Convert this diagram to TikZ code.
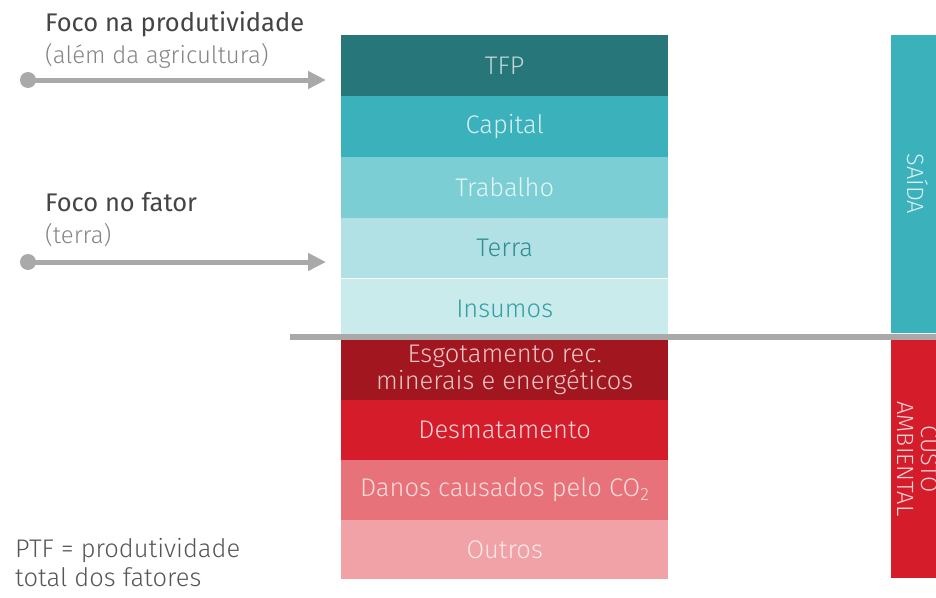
\documentclass[tikz,border=0pt]{standalone}
\usepackage{fontspec}
\setmainfont{Fira Sans Light}
\newfontfamily\headfont{Fira Sans}
\usetikzlibrary{positioning,arrows.meta}

\definecolor{tfpcol}{HTML}{27777A}
\definecolor{capcol}{HTML}{3BB1BC}
\definecolor{trabcol}{HTML}{7BCED3}
\definecolor{terracol}{HTML}{B1E1E5}
\definecolor{inscol}{HTML}{C9EBEC}
\definecolor{esgcol}{HTML}{A2161F}
\definecolor{desmcol}{HTML}{D41C2A}
\definecolor{danoscol}{HTML}{E8727A}
\definecolor{outcol}{HTML}{F0A2A6}
\definecolor{arrowgray}{HTML}{A9A9A9}
\definecolor{headgray}{HTML}{444444}
\definecolor{subgray}{HTML}{858585}

\tikzset{
	band/.style={fill=#1, minimum width=327pt, minimum height=60.5pt, inner sep=0pt, anchor=north west, align=center, font=\fontsize{25.5}{27}\selectfont},
	redband/.style={band=#1, minimum height=59.5pt},
	sidebar/.style={fill=#1, rotate=-90, minimum height=54pt, inner sep=0pt, align=center, font=\fontsize{23.5}{24}\selectfont},
	dot/.style={circle, fill=arrowgray, minimum size=16pt, inner sep=0pt},
	pointer/.style={arrowgray, line width=5pt, -{Triangle[length=18pt, width=17pt]}},
	cutline/.style={arrowgray, line width=6pt},
	headlabel/.style={anchor=base west, inner sep=0pt, text=headgray, font=\headfont\fontsize{25.5}{27}\selectfont},
	sublabel/.style={anchor=base west, inner sep=0pt, text=subgray, font=\fontsize{24}{27}\selectfont}
}

\begin{document}
\begin{tikzpicture}[x=1pt, y=-1pt]
	\useasboundingbox (0,0) rectangle (936,597);
	
	% coluna da esquerda
	\node[band=tfpcol, text=tfpcol!30!white] (tfp) at (341,35) {TFP};
	\node[band=capcol, text=capcol!20!white, below=0pt of tfp] (capital) {Capital};
	\node[band=trabcol, text=trabcol!20!white, below=0pt of capital] (trabalho) {Trabalho};
	\node[band=terracol, text=capcol!80!black, below=0pt of trabalho] (terra) {Terra};
	\node[band=inscol, text=capcol!90!black, below=0pt of terra] (insumos) {Insumos};
	
	\node[redband=esgcol, text=esgcol!25!white] (esgot) at (341,340) {Esgotamento rec.\\minerais e energ\'eticos};
	\node[redband=desmcol, text=desmcol!20!white, below=0pt of esgot] (desmat) {Desmatamento};
	\node[redband=danoscol, text=danoscol!25!white, below=0pt of desmat] (danos) {Danos causados pelo CO\textsubscript{2}};
	\node[redband=outcol, text=outcol!25!white, below=0pt of danos] (outros) {Outros};
	
	% coluna da direita
	\node[sidebar=capcol, text=capcol!20!white, minimum width=298pt] (saida) at (918,184) {SA\'IDA};
	\node[sidebar=desmcol, text=desmcol!20!white, minimum width=238pt] (custo) at (918,459) {CUSTO\\AMBIENTAL};
	
	% linha de corte
	\coordinate (cutW) at (290,337);
	\coordinate (cutE) at (945,337);
	\draw[cutline] (cutW) -- (cutE);
	
	% setas
	\node[headlabel] (focoA) at (45,31) {Foco na produtividade};
	\node[sublabel] (focoAsub) at (45,63) {(al\'em da agricultura)};
	\node[dot] (dotA) at (28,80) {};
	\coordinate (tipA) at (326,80);
	\draw[pointer] (dotA.center) -- (tipA);
	
	\node[headlabel] (focoB) at (45,211) {Foco no fator};
	\node[sublabel] (focoBsub) at (45,243) {(terra)};
	\node[dot] (dotB) at (28,262) {};
	\coordinate (tipB) at (326,262);
	\draw[pointer] (dotB.center) -- (tipB);
	
	% nota
	\node[sublabel, text=headgray!90!white, font=\fontsize{25.5}{27}\selectfont] (ptf) at (15,557) {PTF = produtividade};
	\node[sublabel, text=headgray!90!white, font=\fontsize{25.5}{27}\selectfont] (ptfb) at (15,586) {total dos fatores};
	
\end{tikzpicture}
\end{document}
